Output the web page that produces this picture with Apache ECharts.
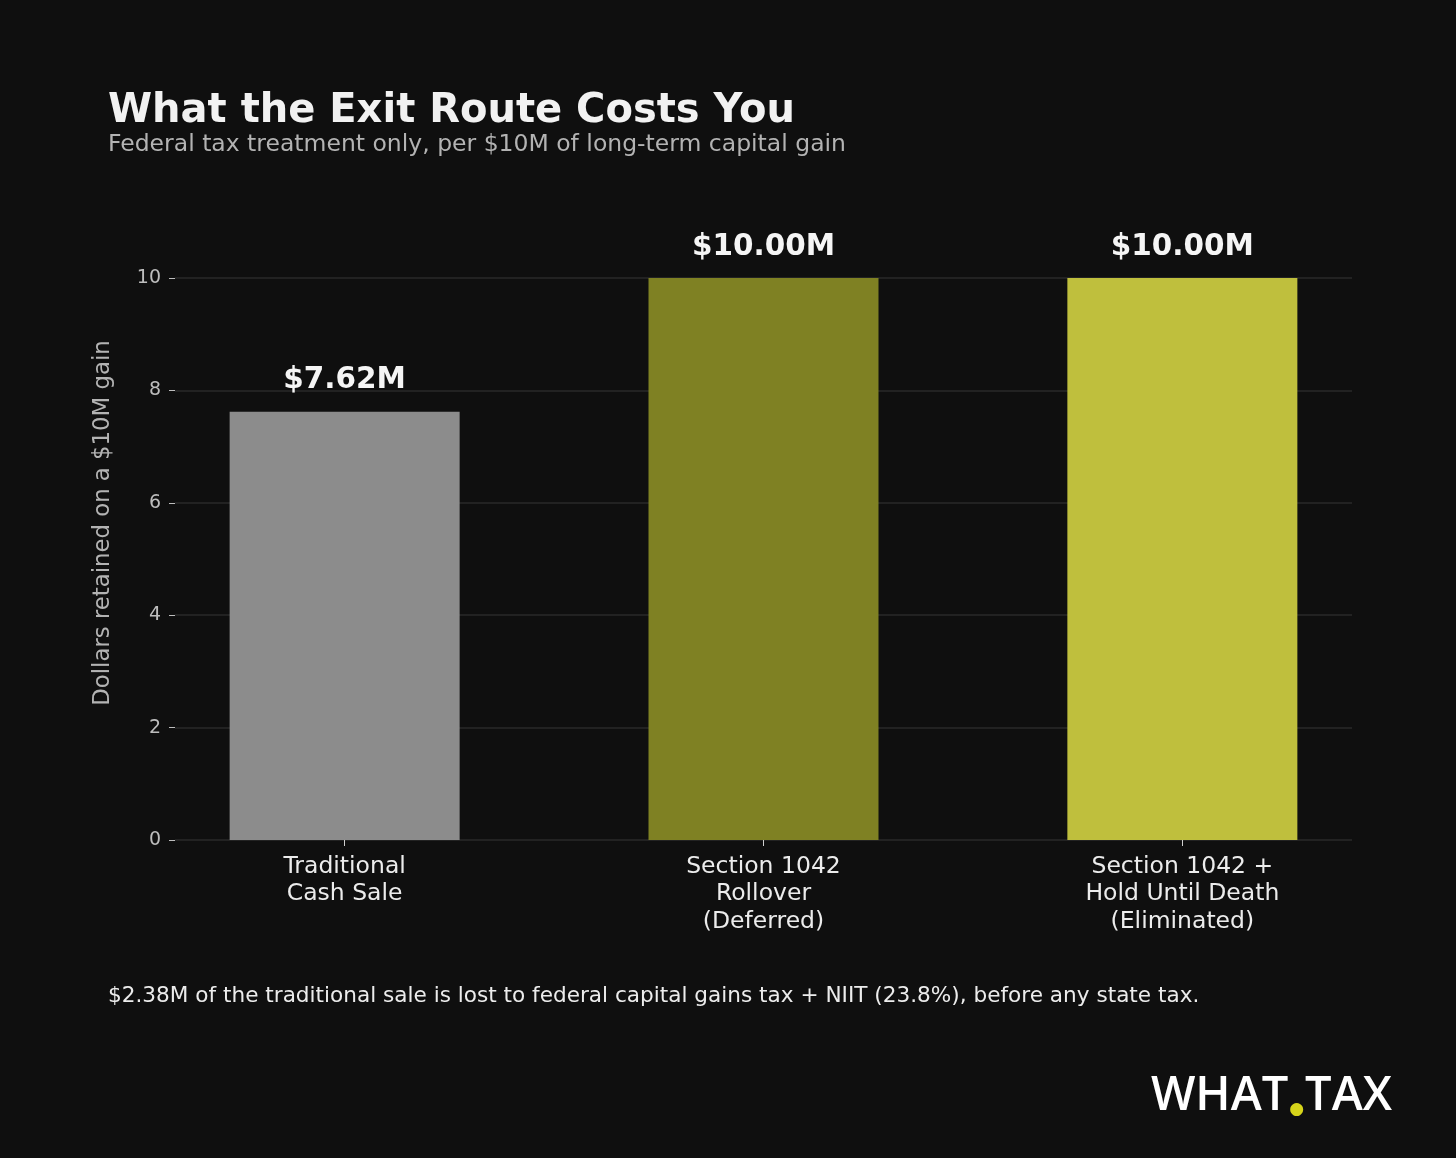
<!DOCTYPE html>
<html>
<head>
<meta charset="utf-8" />
<script src="https://cdn.jsdelivr.net/npm/echarts@6.0.0/dist/echarts.min.js"></script>
<style>
    body { margin: 0; background: #0f0f0f; overflow: hidden; }
    #chart { width: 1456px; height: 1158px; }
</style>
</head>
<body>
<div id="chart"></div>
<script type="text/javascript">
    // chart data
    var categories = ['Traditional\nCash Sale', 'Section 1042\nRollover\n(Deferred)', 'Section 1042 +\nHold Until Death\n(Eliminated)'];
    var retained = [7.62, 10.00, 10.00];   // $M kept per $10M gain
    var barColors = ['#8c8c8c', '#7f8123', '#bfbf3d'];

    var chart = echarts.init(document.getElementById('chart'));

    var barData = retained.map(function (v, i) {
        return { value: [i, v], itemStyle: { color: barColors[i] } };
    });

    var option = {
        backgroundColor: '#0f0f0f',
        animation: false,
        textStyle: { fontFamily: 'DejaVu Sans' },
        title: {
            text: 'What the Exit Route Costs You',
            subtext: 'Federal tax treatment only, per $10M of long-term capital gain',
            left: 103,
            top: 87,
            itemGap: 1,
            textStyle: { color: '#f2f2f2', fontSize: 40, fontWeight: 'bold', fontFamily: 'DejaVu Sans' },
            subtextStyle: { color: '#b3b3b3', fontSize: 23.5, fontFamily: 'DejaVu Sans' }
        },
        grid: { left: 175, right: 104, top: 278, bottom: 318 },
        xAxis: {
            type: 'value',
            min: -0.405,
            max: 2.405,
            splitLine: { show: false },
            axisLine: { show: false },
            axisTick: { show: true, customValues: [0, 1, 2], length: 6, lineStyle: { color: '#d0d0d0' } },
            axisLabel: {
                customValues: [0, 1, 2],
                formatter: function (v) { return categories[Math.round(v)]; },
                color: '#ececec',
                fontSize: 23.5,
                lineHeight: 27.5,
                margin: 13
            }
        },
        yAxis: {
            type: 'value',
            min: 0,
            max: 10,
            interval: 2,
            axisLine: { show: false, onZero: false },
            axisTick: { show: true, length: 6, lineStyle: { color: '#bdbdbd' } },
            axisLabel: {
                color: '#bdbdbd',
                fontSize: 19,
                margin: 14
            },
            splitLine: { lineStyle: { color: '#2a2a2a', width: 1.5 } }
        },
        series: [{
            type: 'bar',
            data: barData,
            barWidth: 230,
            label: {
                show: true,
                position: 'top',
                distance: 16,
                color: '#f5f5f5',
                fontSize: 29.5,
                fontWeight: 'bold',
                formatter: function (p) { return '$' + p.value[1].toFixed(2) + 'M'; }
            }
        }],
        graphic: [
            {
                type: 'text',
                x: 103,
                y: 523,
                rotation: Math.PI / 2,
                style: {
                    text: 'Dollars retained on a $10M gain',
                    fill: '#b3b3b3',
                    fontSize: 22.8,
                    fontFamily: 'DejaVu Sans',
                    align: 'center',
                    verticalAlign: 'middle'
                }
            },
            {
                type: 'text',
                left: 108,
                top: 985,
                style: {
                    text: '$2.38M of the traditional sale is lost to federal capital gains tax + NIIT (23.8%), before any state tax.',
                    fill: '#ececec',
                    fontSize: 21.6,
                    fontFamily: 'DejaVu Sans'
                }
            },
            {
                type: 'text',
                right: 64,
                top: 1073,
                style: {
                    text: '{w|WHAT}{d|●}{w|TAX}',
                    rich: {
                        w: { fill: '#ffffff', fontSize: 47, fontFamily: 'Open Sans', fontWeight: 600 },
                        d: { fill: '#d6d41a', fontSize: 17, fontFamily: 'DejaVu Sans', padding: [26, 1, 0, 1] }
                    }
                }
            }
        ]
    };

    chart.setOption(option);
</script>
</body>
</html>
